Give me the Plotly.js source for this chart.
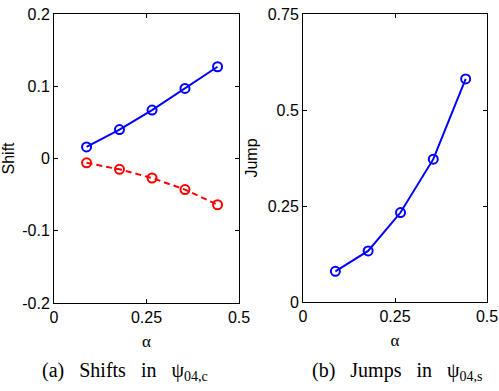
<!DOCTYPE html>
<html>
<head>
<meta charset="utf-8">
<script src="https://cdn.plot.ly/plotly-3.0.1.min.js"></script>
<style>html,body{margin:0;padding:0;background:#fff;}#chart{width:499px;height:391px;}</style>
</head>
<body>
<div id="chart"></div>
<script>
var alpha = [0.088, 0.177, 0.265, 0.354, 0.442];
var shiftBlue = [0.016, 0.040, 0.067, 0.097, 0.127];
var shiftRed = [-0.006, -0.015, -0.027, -0.043, -0.064];
var jump = [0.080, 0.133, 0.233, 0.372, 0.581];
var xTicks = [0, 0.25, 0.5];
var xTickText = ['0', '0.25', '0.5'];
var yTicksA = [-0.2, -0.1, 0, 0.1, 0.2];
var yTickTextA = ['-0.2', '-0.1', '0', '0.1', '0.2'];
var yTicksB = [0, 0.25, 0.5, 0.75];
var yTickTextB = ['0', '0.25', '0.5', '0.75'];

var W = 499, H = 391;
function dx(a, b) { return [a / W, b / W]; }
function dy(top, bottom) { return [(H - bottom) / H, (H - top) / H]; }

var traces = [
  {x: alpha, y: shiftBlue, xaxis: 'x', yaxis: 'y', mode: 'lines+markers',
   line: {color: '#0000ff', width: 2},
   marker: {symbol: 'circle-open', size: 9, color: '#0000ff', line: {width: 2, color: '#0000ff'}}},
  {x: alpha, y: shiftRed, xaxis: 'x', yaxis: 'y', mode: 'lines+markers',
   line: {color: '#ff0000', width: 2, dash: '6px,4px'},
   marker: {symbol: 'circle-open', size: 9, color: '#ff0000', line: {width: 2, color: '#ff0000'}}},
  {x: alpha, y: jump, xaxis: 'x2', yaxis: 'y2', mode: 'lines+markers',
   line: {color: '#0000ff', width: 2},
   marker: {symbol: 'circle-open', size: 9, color: '#0000ff', line: {width: 2, color: '#0000ff'}}}
];

var tickFont = {family: 'Liberation Sans, Arial, sans-serif', size: 16, color: '#000'};
function xax(domain, anchor) {
  return {domain: domain, anchor: anchor, range: [0, 0.5], tickvals: xTicks, ticktext: xTickText,
    ticks: 'inside', ticklen: 4, tickcolor: '#000', mirror: 'ticks', showline: true, linecolor: '#000', linewidth: 1,
    showgrid: false, zeroline: false, tickfont: tickFont,
    title: {text: 'α', font: {family: 'Liberation Serif, Times New Roman, serif', size: 17, color: '#000'}, standoff: 9}};
}
function yax(domain, anchor, range, tv, tt, title) {
  return {domain: domain, anchor: anchor, range: range, tickvals: tv, ticktext: tt,
    ticks: 'inside', ticklen: 4, tickcolor: '#000', mirror: 'ticks', showline: true, linecolor: '#000', linewidth: 1,
    showgrid: false, zeroline: false, tickfont: tickFont,
    title: {text: title, font: {family: 'Liberation Sans, Arial, sans-serif', size: 16, color: '#000'}, standoff: 6}};
}

var capFont = {family: 'Liberation Serif, Times New Roman, serif', size: 20, color: '#000'};
var sp = '&nbsp;&nbsp;&nbsp;';
var layout = {
  width: W, height: H, margin: {l: 0, r: 0, t: 0, b: 0},
  paper_bgcolor: '#fff', plot_bgcolor: '#fff', showlegend: false,
  xaxis: xax(dx(54, 239), 'y'),
  yaxis: yax(dy(14, 303), 'x', [-0.2, 0.2], yTicksA, yTickTextA, 'Shift'),
  xaxis2: xax(dx(303, 487), 'y2'),
  yaxis2: yax(dy(14, 302), 'x2', [0, 0.75], yTicksB, yTickTextB, 'Jump'),
  annotations: [
    {text: '(a)' + sp + 'Shifts' + sp + 'in' + sp + 'ψ<sub>04,c</sub>', xref: 'paper', yref: 'paper', x: 125 / W, y: (H - 371) / H,
     xanchor: 'center', yanchor: 'middle', showarrow: false, font: capFont},
    {text: '(b)' + sp + 'Jumps' + sp + 'in' + sp + 'ψ<sub>04,s</sub>', xref: 'paper', yref: 'paper', x: 397 / W, y: (H - 371) / H,
     xanchor: 'center', yanchor: 'middle', showarrow: false, font: capFont}
  ]
};

Plotly.newPlot('chart', traces, layout, {displayModeBar: false, staticPlot: true});
</script>
</body>
</html>
